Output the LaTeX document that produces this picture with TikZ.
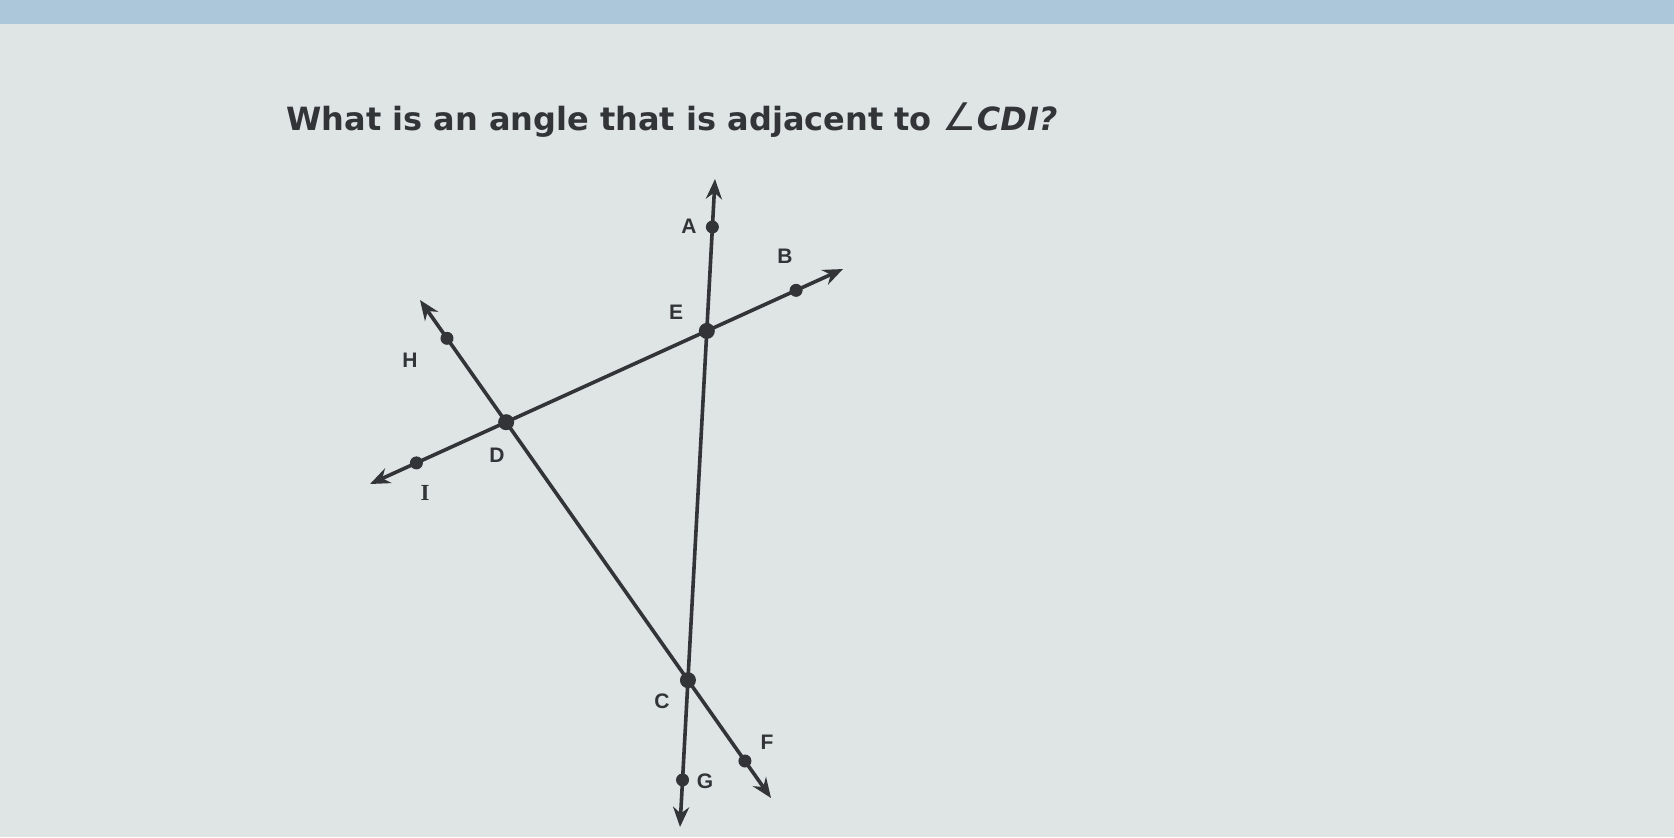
\documentclass[tikz,border=0pt]{standalone}
\usepackage{fontspec}
\setmainfont{DejaVu Sans}
\newfontfamily\lblfont{Liberation Sans}
\newfontfamily\serlbl{Liberation Serif}
\usetikzlibrary{arrows.meta,calc}
\definecolor{screen}{RGB}{223,228,228}
\definecolor{topband}{RGB}{172,199,218}
\definecolor{ink}{RGB}{50,52,55}
\tikzset{
  geoline/.style={ink, line width=1.8pt, {Stealth[length=10pt,width=8pt]}-{Stealth[length=10pt,width=8pt]}},
  pt/.style={circle, fill=ink, inner sep=0pt, minimum size=6.5pt},
  bigpt/.style={pt, minimum size=8pt},
  lbl/.style={ink, font=\lblfont\fontsize{10.5}{12}\selectfont\bfseries, inner sep=0pt}
}
\begin{document}
\begin{tikzpicture}[x=0.5pt, y=-0.5pt]
  \fill[screen] (0,0) rectangle (1674,837);
  \fill[topband] (0,0) rectangle (1674,24);
  \useasboundingbox (0,0) rectangle (1674,837);
  \node [ink, anchor=base west, inner sep=0pt, font=\fontsize{16}{19}\selectfont\bfseries] (question) at (286,130)
    {What is an angle that is adjacent to {\mdseries\fontsize{19}{19}\selectfont ∠}\textit{CDI?}};
  % ends of the three lines
  \coordinate (Aend) at (715,179);
  \coordinate (Gend) at (680,827);
  \coordinate (Iend) at (370,484);
  \coordinate (Bend) at (843,269);
  \coordinate (Hend) at (420,300);
  \coordinate (Fend) at (771,798);
  \draw[geoline] (Gend) -- (Aend);
  \draw[geoline] (Iend) -- (Bend);
  \draw[geoline] (Hend) -- (Fend);
  % points
  \node [bigpt] (E) at (intersection of Aend--Gend and Iend--Bend) {};
  \node [bigpt] (D) at (intersection of Iend--Bend and Hend--Fend) {};
  \node [bigpt] (C) at (intersection of Aend--Gend and Hend--Fend) {};
  \node [pt] (A) at ($(Gend)!(713,227)!(Aend)$) {};
  \node [pt] (G) at ($(Gend)!(684,780)!(Aend)$) {};
  \node [pt] (B) at ($(Iend)!(796,290)!(Bend)$) {};
  \node [pt] (I) at ($(Iend)!(416,462)!(Bend)$) {};
  \node [pt] (H) at ($(Hend)!(446,339)!(Fend)$) {};
  \node [pt] (F) at ($(Hend)!(745,761)!(Fend)$) {};
  % labels
  \node [lbl] (labA) at (689,226) {A};
  \node [lbl] (labB) at (785,256) {B};
  \node [lbl] (labE) at (676,312) {E};
  \node [lbl] (labH) at (410,360) {H};
  \node [lbl] (labD) at (497,455) {D};
  \node [lbl, font=\serlbl\fontsize{11.5}{12}\selectfont\bfseries] (labI) at (425,493) {I};
  \node [lbl] (labC) at (662,701) {C};
  \node [lbl] (labF) at (767,742) {F};
  \node [lbl] (labG) at (705,781) {G};
\end{tikzpicture}
\end{document}
